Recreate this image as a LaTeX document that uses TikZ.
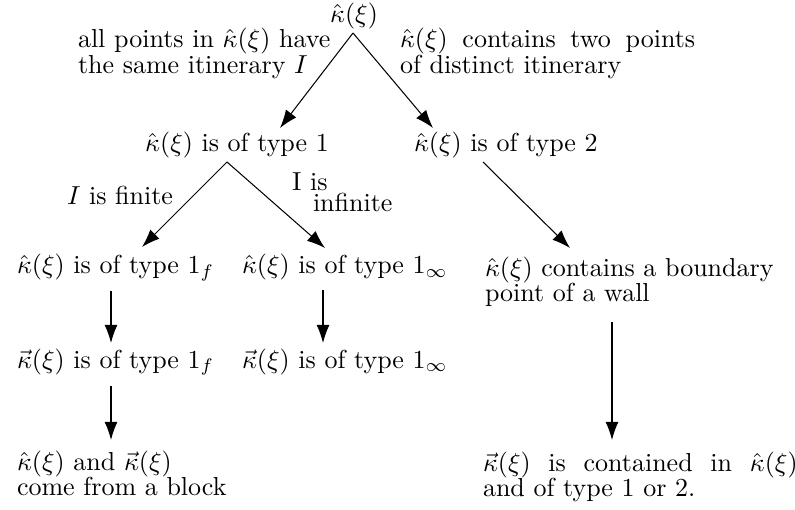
\documentclass[tikz,border=0pt]{standalone}
\usetikzlibrary{arrows.meta,calc}
\begin{document}
\begin{tikzpicture}[x=0.3846pt,y=-0.3846pt,
  every node/.style={inner sep=0pt,outer sep=0pt,font=\fontsize{10pt}{9.8pt}\selectfont},
  lbl/.style={anchor=base west},
  blk/.style={anchor=north west,align=left},
  arr/.style={line width=0.4pt,-{Latex[length=7pt,width=5pt]}}]
\useasboundingbox (0,0) rectangle (795,510);
% top
\node[anchor=base] (top) at (354,23) {$\hat\kappa(\xi)$};
\node[blk] (lblA) at (78,28.5) {all points in $\hat\kappa(\xi)$ have\\the same itinerary $I$};
\node[blk] (lblB) at (400,28.5) {\makebox[113.5pt][s]{$\hat\kappa(\xi)$ contains two points}\\of distinct itinerary};
% row B
\node[anchor=base] (t1) at (237,152) {$\hat\kappa(\xi)$ is of type 1};
\node[lbl] (t2) at (414,152) {$\hat\kappa(\xi)$ is of type 2};
\node[lbl] (lfin) at (67,205) {$I$ is finite};
\node[lbl] (linfa) at (292,190) {I is};
\node[lbl] (linfb) at (313,212) {infinite};
% row C
\node[lbl] (c1) at (17,274) {$\hat\kappa(\xi)$ is of type $1_f$};
\node[lbl] (c2) at (242,274) {$\hat\kappa(\xi)$ is of type $1_\infty$};
\node[blk] (c3) at (485,256.5) {$\hat\kappa(\xi)$ contains a boundary\\point of a wall};
% row D
\node[lbl] (d1) at (17,368) {$\vec\kappa(\xi)$ is of type $1_f$};
\node[lbl] (d2) at (242,368) {$\vec\kappa(\xi)$ is of type $1_\infty$};
% row E
\node[blk] (e1) at (17,450.5) {$\hat\kappa(\xi)$ and $\vec\kappa(\xi)$\\come from a block};
\node[blk] (e2) at (483,451.5) {\makebox[121pt][s]{$\vec\kappa(\xi)$ is contained in $\hat\kappa(\xi)$}\\and of type 1 or 2.};
% arrows
\coordinate (apexA) at ($(top.south)+(-1,3.5)$);
\draw[arr] (apexA) -- ($(t1.north)+(43,-4.5)$);
\draw[arr] (apexA) -- ($(t2.north west)+(19,-4.5)$);
\coordinate (apexB) at ($(t1.south)+(-10,3.5)$);
\draw[arr] (apexB) -- ($(c1.north west)+(125,-7.5)$);
\draw[arr] (apexB) -- ($(c2.north west)+(83,-6.5)$);
\draw[arr] ($(t2.south west)+(69,3.5)$) -- ($(c3.north west)+(85,-8.5)$);
\draw[arr] ($(c1.south west)+(94,9.5)$) -- ($(d1.north west)+(94,-5.5)$);
\draw[arr] ($(c2.south west)+(81,9.5)$) -- ($(d2.north west)+(81,-5.5)$);
\draw[arr] ($(d1.south west)+(94,10.5)$) -- ($(e1.north west)+(94,-10.5)$);
\draw[arr] ($(c3.north west)+(127,65.5)$) -- ($(e2.north west)+(129,-11.5)$);
\end{tikzpicture}
\end{document}
